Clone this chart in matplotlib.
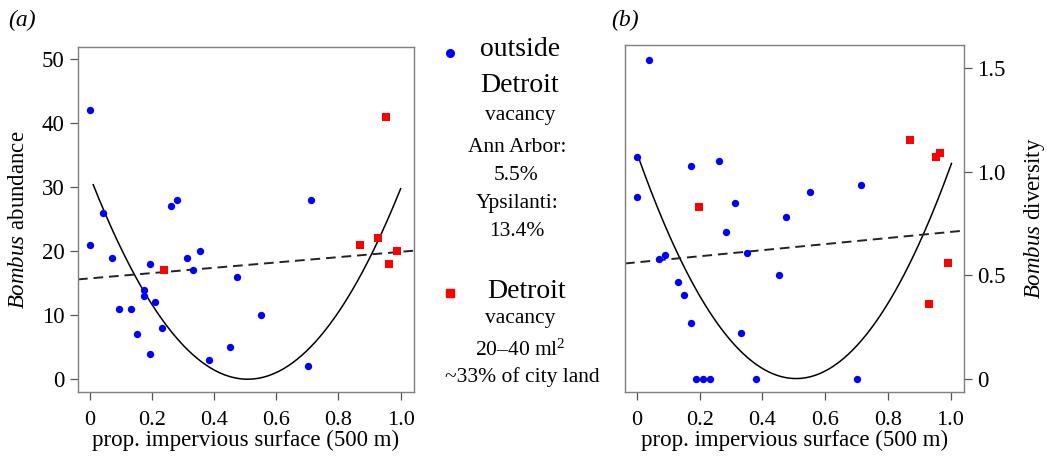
import numpy as np
import matplotlib.pyplot as plt

plt.rcParams['font.family'] = 'Liberation Serif'
plt.rcParams['mathtext.fontset'] = 'custom'
plt.rcParams['mathtext.rm'] = 'Liberation Serif'
plt.rcParams['mathtext.it'] = 'Liberation Serif:italic'

# panel (a): Bombus abundance
a_out_x = [0, 0, 0.043, 0.072, 0.093, 0.134, 0.152, 0.173, 0.173, 0.193, 0.193, 0.211,
           0.232, 0.261, 0.282, 0.312, 0.332, 0.353, 0.382, 0.451, 0.473, 0.551, 0.711, 0.702]
a_out_y = [42, 21, 26, 19, 11, 11, 7, 14, 13, 18, 4, 12,
           8, 27, 28, 19, 17, 20, 3, 5, 16, 10, 28, 2]
a_det_x = [0.238, 0.870, 0.928, 0.953, 0.963, 0.989]
a_det_y = [17, 21, 22, 41, 18, 20]

# panel (b): Bombus diversity
b_out_x = [0.040, 0, 0, 0.070, 0.091, 0.132, 0.151, 0.172, 0.172, 0.189, 0.211, 0.232,
           0.261, 0.283, 0.312, 0.331, 0.352, 0.381, 0.452, 0.474, 0.551, 0.713, 0.701]
b_out_y = [1.54, 1.07, 0.88, 0.577, 0.597, 0.468, 0.406, 1.03, 0.269, 0, 0, 0,
           1.05, 0.71, 0.847, 0.218, 0.608, 0, 0.50, 0.779, 0.90, 0.935, 0]
b_det_x = [0.197, 0.871, 0.932, 0.955, 0.966, 0.993]
b_det_y = [0.831, 1.152, 0.361, 1.069, 1.089, 0.560]

# fitted lines: quadratic (a, vertex x, x range), linear (intercept, slope)
a_quad = (123.0, 0.508, 0.011, 1.0)
a_lin = (15.75, 4.15)
b_quad = (4.236, 0.5075, 0.006, 1.003)
b_lin = (0.562, 0.147)

W, H = 1047, 458
fig = plt.figure(figsize=(W / 100, H / 100), dpi=100)

def box(x0, y0, x1, y1):
    return [x0 / W, 1 - y1 / H, (x1 - x0) / W, (y1 - y0) / H]

xticks = [0, 0.2, 0.4, 0.6, 0.8, 1.0]
xticklabels = ['0', '0.2', '0.4', '0.6', '0.8', '1.0']

def draw_panel(ax, ox, oy, dx, dy, quad, lin, ylim, yticks, yticklabels, ylabel):
    ax.scatter(ox, oy, s=28, color='#0000ff', marker='o', linewidths=0, zorder=3)
    ax.scatter(dx, dy, s=26, color='#ff0000', marker='s', linewidths=0, zorder=3)
    a, h, x0, x1 = quad
    xs = np.linspace(x0, x1, 200)
    ax.plot(xs, a * (xs - h) ** 2, color='black', lw=1.1, zorder=2)
    ax.axline((0, lin[0]), slope=lin[1], color='#222222', lw=1.4, ls=(0, (5, 3)), zorder=2)
    ax.set_xlim(-0.038, 1.043)
    ax.set_ylim(*ylim)
    ax.set_xticks(xticks)
    ax.set_xticklabels(xticklabels, fontsize=16)
    ax.set_yticks(yticks)
    ax.set_yticklabels(yticklabels, fontsize=16.5)
    ax.tick_params(axis='both', direction='out', length=5.5, width=0.9, color='#555555')
    ax.tick_params(axis='x', pad=8)
    ax.tick_params(axis='y', pad=4)
    for sp in ax.spines.values():
        sp.set_color('#7f7f7f')
        sp.set_linewidth(1.0)
    ax.set_xlabel('prop. impervious surface (500 m)', fontsize=16.5, labelpad=0)
    ax.set_ylabel(ylabel, fontsize=16.5)

ax1 = fig.add_axes(box(78, 47, 414, 392))
draw_panel(ax1, a_out_x, a_out_y, a_det_x, a_det_y, a_quad, a_lin,
           (-2.0, 51.9), [0, 10, 20, 30, 40, 50], ['0', '10', '20', '30', '40', '50'],
           r'$\it{Bombus}$ abundance')
ax1.yaxis.set_label_coords(-0.146, 0.5)

ax2 = fig.add_axes(box(625, 45, 964, 392))
draw_panel(ax2, b_out_x, b_out_y, b_det_x, b_det_y, b_quad, b_lin,
           (-0.065, 1.613), [0, 0.5, 1.0, 1.5], ['0', '0.5', '1.0', '1.5'],
           r'$\it{Bombus}$ diversity')
ax2.yaxis.tick_right()
ax2.yaxis.set_label_position('right')
ax2.yaxis.set_label_coords(1.172, 0.5)

# panel letters
fig.text(8 / W, 1 - 20 / H, '(a)', fontsize=17, style='italic', ha='left', va='center')
fig.text(611 / W, 1 - 20 / H, '(b)', fontsize=17, style='italic', ha='left', va='center')

# legend in the middle
def ftxt(x, y, s, size):
    fig.text(x / W, 1 - y / H, s, fontsize=size, ha='center', va='center')

fig.add_artist(plt.Line2D([450 / W], [1 - 53 / H], marker='o', ms=5.5, color='#0000ff', lw=0))
ftxt(520, 50, 'outside', 20)
ftxt(520, 86, 'Detroit', 20)
ftxt(520, 116, 'vacancy', 15.5)
ftxt(517, 148, 'Ann Arbor:', 15.5)
ftxt(516, 176, '5.5%', 15.5)
ftxt(517, 204, 'Ypsilanti:', 15.5)
ftxt(517, 232, '13.4%', 15.5)
fig.add_artist(plt.Line2D([450 / W], [1 - 293 / H], marker='s', ms=5.5, color='#ff0000', lw=0))
ftxt(527, 292, 'Detroit', 20)
ftxt(520, 318, 'vacancy', 15.5)
ftxt(520, 350, r'20–40 ml$^2$', 15.5)
ftxt(522, 377, '~33% of city land', 15.5)

fig.savefig('out.png', dpi=100)
